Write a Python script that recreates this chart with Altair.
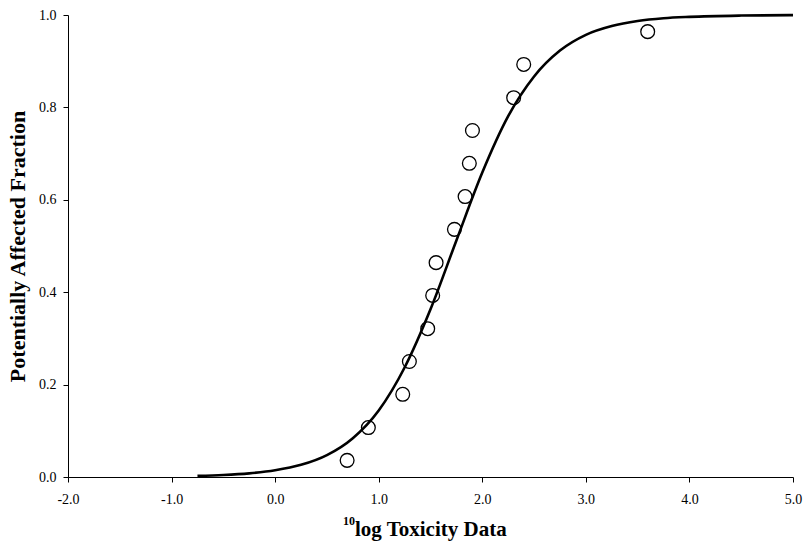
import altair as alt
import pandas as pd

# Observed data (log10 toxicity) and plotting positions
obs_x = [0.695, 0.90, 1.232, 1.296, 1.473, 1.521, 1.554, 1.731, 1.834, 1.875, 1.905, 2.303, 2.40, 3.597]
obs_y = [0.036, 0.107, 0.179, 0.250, 0.321, 0.393, 0.464, 0.536, 0.607, 0.679, 0.750, 0.821, 0.893, 0.964]

# Fitted curve
curve_x = [-0.75, -0.5, -0.25, 0.0, 0.25, 0.5, 0.75, 1.0, 1.25, 1.5, 1.75, 2.0, 2.25, 2.5,
           2.75, 3.0, 3.25, 3.5, 3.75, 4.0, 4.5, 5.0]
curve_y = [0.0024, 0.0043, 0.0079, 0.0145, 0.0263, 0.0474, 0.084, 0.144, 0.237, 0.363, 0.512,
           0.659, 0.781, 0.867, 0.923, 0.957, 0.976, 0.987, 0.993, 0.996, 0.9988, 0.9997]

x_ticks = [-2, -1, 0, 1, 2, 3, 4, 5]
y_ticks = [0.0, 0.2, 0.4, 0.6, 0.8, 1.0]

x_title_sup = "10"
x_title_main = "log Toxicity Data"
y_title = "Potentially Affected Fraction"

pts = pd.DataFrame({"x": obs_x, "y": obs_y})
crv = pd.DataFrame({"x": curve_x, "y": curve_y})

FONT = "Liberation Serif"
LABEL_EXPR = "datum.value < 0 ? '-' + format(-datum.value, '.1f') : format(datum.value, '.1f')"

xscale = alt.Scale(domain=[-2, 5], nice=False, zero=False)
yscale = alt.Scale(domain=[0, 1], nice=False)

xaxis = alt.Axis(values=x_ticks, labelExpr=LABEL_EXPR, title=None,
                 grid=False, domainColor="black", tickColor="black", tickSize=5,
                 labelFont=FONT, labelFontSize=14, labelColor="black", labelPadding=10,
                 labelFlush=False)
yaxis = alt.Axis(values=y_ticks, format=".1f", title=y_title,
                 grid=False, domainColor="black", tickColor="black", tickSize=5,
                 labelFont=FONT, labelFontSize=14, labelColor="black", labelPadding=7,
                 titleFont=FONT, titleFontSize=22, titleFontWeight="bold", titleColor="black",
                 titlePadding=9, labelFlush=False)

line = alt.Chart(crv).mark_line(color="black", strokeWidth=2.6, interpolate="monotone").encode(
    x=alt.X("x:Q", scale=xscale, axis=xaxis),
    y=alt.Y("y:Q", scale=yscale, axis=yaxis),
)

points = alt.Chart(pts).mark_point(shape="circle", filled=False, color="black",
                                   strokeWidth=1.3, size=190, opacity=1).encode(
    x=alt.X("x:Q", scale=xscale),
    y=alt.Y("y:Q", scale=yscale),
)

title_df = pd.DataFrame({"main": [x_title_main], "sup": [x_title_sup]})

title_main = alt.Chart(title_df).mark_text(
    font=FONT, fontSize=21, fontWeight="bold", color="black",
    align="left", baseline="alphabetic"
).encode(text="main:N", x=alt.value(287), y=alt.value(521))

title_sup = alt.Chart(title_df).mark_text(
    font=FONT, fontSize=12, fontWeight="bold", color="black",
    align="right", baseline="alphabetic"
).encode(text="sup:N", x=alt.value(287), y=alt.value(510))

chart = alt.layer(line, points, title_main, title_sup).properties(
    width=725, height=462,
    autosize=alt.AutoSizeParams(type="none"),
    padding={"left": 68, "top": 15, "right": 14, "bottom": 67},
    background="white",
).configure_view(stroke=None)

chart.save("out.html", embed_options={"renderer": "svg", "actions": False})
